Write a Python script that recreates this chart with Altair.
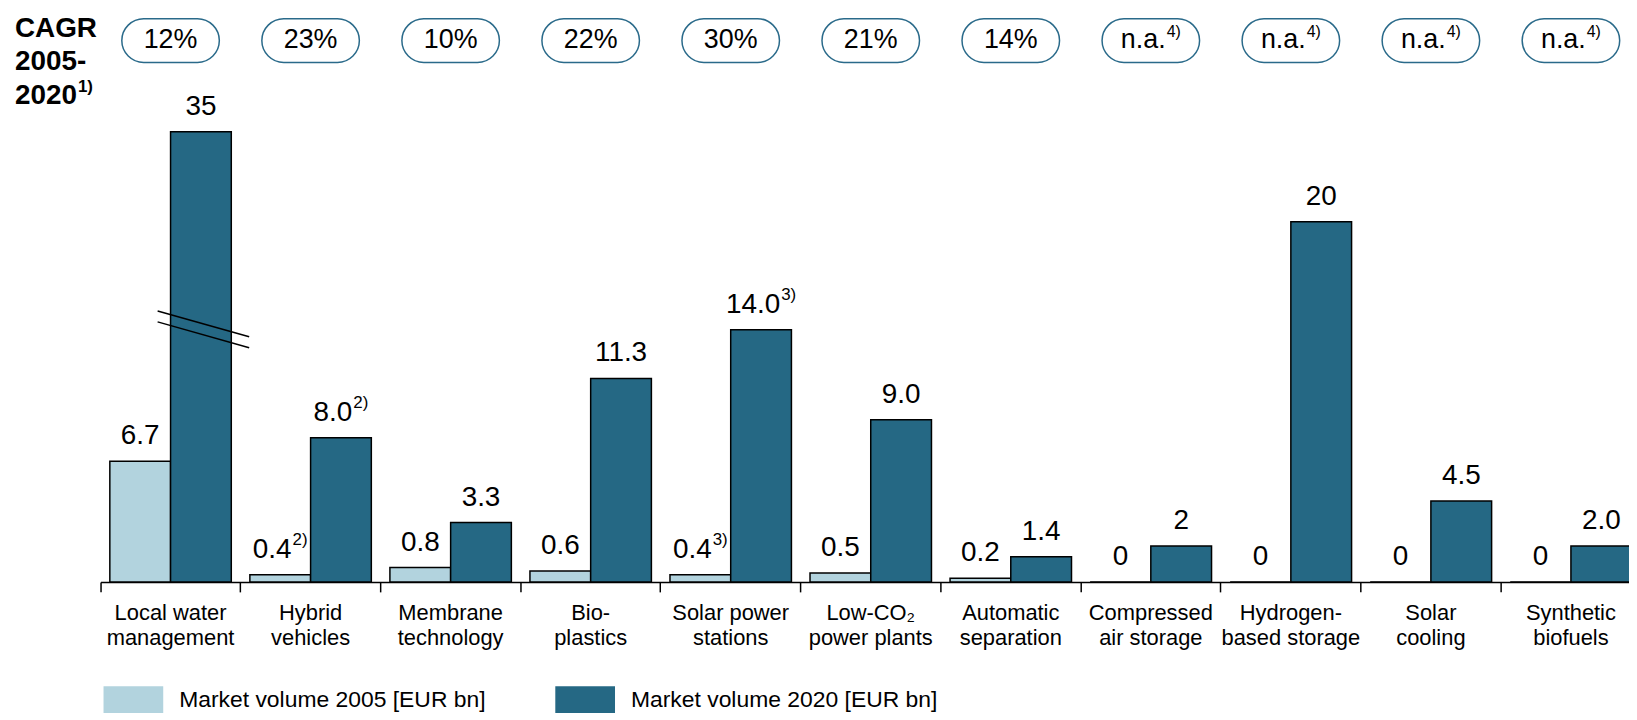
import altair as alt
import pandas as pd

categories = [
    "Local water\nmanagement", "Hybrid\nvehicles", "Membrane\ntechnology",
    "Bio-\nplastics", "Solar power\nstations", "Low-CO\u2082\npower plants",
    "Automatic\nseparation", "Compressed\nair storage", "Hydrogen-\nbased storage",
    "Solar\ncooling", "Synthetic\nbiofuels",
]
cagr = ["12%", "23%", "10%", "22%", "30%", "21%", "14%", "n.a.", "n.a.", "n.a.", "n.a."]
cagr_fn = ["", "", "", "", "", "", "", "4)", "4)", "4)", "4)"]
v2005 = [6.7, 0.4, 0.8, 0.6, 0.4, 0.5, 0.2, 0, 0, 0, 0]
v2020 = [35, 8.0, 3.3, 11.3, 14.0, 9.0, 1.4, 2, 20, 4.5, 2.0]
lab2005 = ["6.7", "0.4", "0.8", "0.6", "0.4", "0.5", "0.2", "0", "0", "0", "0"]
fn2005 = ["", "2)", "", "", "3)", "", "", "", "", "", ""]
lab2020 = ["35", "8.0", "3.3", "11.3", "14.0", "9.0", "1.4", "2", "20", "4.5", "2.0"]
fn2020 = ["", "2)", "", "", "3)", "", "", "", "", "", ""]
series = ["Market volume 2005 [EUR bn]", "Market volume 2020 [EUR bn]"]
colors = ["#b2d3de", "#256884"]
title_lines = "CAGR\n2005-\n2020"
title_fn = "1)"
BREAK_AT = 25  # values above this are drawn with an axis break

FONT = "Liberation Sans"
YDOM = [0, 31.77]
TITLE_SIZE = 28

# approximate Arial advance widths (em) for centring label + footnote
EM = {".": 0.278, "%": 0.889, ")": 0.333, "n": 0.556, "a": 0.556, "-": 0.333}


def em(s):
    return sum(EM.get(ch, 0.556) for ch in s)


rows = []
for i, c in enumerate(categories):
    for s, vals, labs, fns in ((series[0], v2005, lab2005, fn2005),
                               (series[1], v2020, lab2020, fn2020)):
        v = vals[i]
        rows.append({"cat": c, "series": s, "value": v,
                     "shown": min(v, BREAK_AT), "label": labs[i], "fn": fns[i]})
df = pd.DataFrame(rows)
df_cagr = pd.DataFrame({"cat": categories, "cagr": cagr, "fn": cagr_fn})
broken = [c for c, v in zip(categories, v2020) if v > BREAK_AT]
df_break = pd.DataFrame({"cat": broken * 2, "ya": [15.04, 14.44] * len(broken),
                         "yb": [13.61, 13.0] * len(broken)})

xscale = alt.Scale(domain=categories, paddingInner=0, paddingOuter=0)
X = alt.X("cat:N", sort=categories, scale=xscale, title=None,
          axis=alt.Axis(bandPosition=0, domainColor="black", domainWidth=1.5,
                        tickColor="black", tickWidth=1.5, tickSize=10,
                        labelAngle=0, labelFont=FONT, labelFontSize=22,
                        labelColor="black", labelLineHeight=25, labelPadding=11,
                        labelExpr="split(datum.value, '\\n')", labelLimit=300))
Y = alt.Y("shown:Q", scale=alt.Scale(domain=YDOM), axis=None)
XO = alt.XOffset("series:N", scale=alt.Scale(domain=series, paddingOuter=0.153, paddingInner=0))

bars = alt.Chart(df).mark_bar(stroke="black", strokeWidth=1.5).encode(
    x=X, xOffset=XO, y=Y,
    color=alt.Color("series:N", scale=alt.Scale(domain=series, range=colors),
                    legend=alt.Legend(
                        title=None, orient="none", legendX=3, legendY=663,
                        direction="horizontal",
                        symbolType="M-1,-0.45H1V0.45H-1Z", symbolSize=3600,
                        symbolStrokeWidth=0, symbolOpacity=1,
                        labelFont=FONT, labelFontSize=23, labelColor="black",
                        labelOffset=16, columnPadding=69, labelLimit=400)),
)


def footnoted_text(data, text_field, fn_field, enc, size, sup_size, dy, sup_dy):
    """Plain centred labels plus label+superscript pairs centred as a whole."""
    layers = [alt.Chart(data).transform_filter(f"datum.{fn_field} == ''").mark_text(
        font=FONT, fontSize=size, dy=dy, baseline="alphabetic", color="black"
    ).encode(text=f"{text_field}:N", **enc)]
    sub = data[data[fn_field] != ""]
    groups = {}
    for _, r in sub.iterrows():
        wm = em(r[text_field]) * size
        ws = em(r[fn_field]) * sup_size
        key = (round(wm, 1), round(ws, 1))
        groups.setdefault(key, []).append(r[text_field] + "|" + r[fn_field])
    for (wm, ws), keys in groups.items():
        start = -(wm + ws + 1) / 2
        flt = alt.FieldOneOfPredicate(field="_k", oneOf=keys)
        base = alt.Chart(data).transform_calculate(
            _k=f"datum.{text_field} + '|' + datum.{fn_field}").transform_filter(flt)
        layers.append(base.mark_text(font=FONT, fontSize=size, dx=start, dy=dy, align="left",
                                     baseline="alphabetic", color="black")
                      .encode(text=f"{text_field}:N", **enc))
        layers.append(base.mark_text(font=FONT, fontSize=sup_size, dx=start + wm + 1,
                                     dy=dy + sup_dy, align="left",
                                     baseline="alphabetic", color="black")
                      .encode(text=f"{fn_field}:N", **enc))
    return layers


value_layers = footnoted_text(df, "label", "fn", {"x": X, "xOffset": XO, "y": Y},
                              28, 17, -17, -13)

breaks = alt.Chart(df_break).mark_rule(color="black", strokeWidth=1.5,
                                       xOffset=-13, x2Offset=79).encode(
    x=X, x2=alt.X2("cat:N"), y=alt.Y("ya:Q", scale=alt.Scale(domain=YDOM), axis=None),
    y2="yb:Q"
)

pills = alt.Chart(df_cagr).mark_bar(width=98, cornerRadius=22, fill="white",
                                    stroke="#2a6a8a", strokeWidth=1.5).encode(
    x=X, y=alt.value(9), y2=alt.value(53)
)
pill_layers = footnoted_text(df_cagr, "cagr", "fn", {"x": X, "y": alt.value(38)},
                             27, 16, 0, -11)

title = alt.Chart(pd.DataFrame({"t": [title_lines]})).mark_text(
    font=FONT, fontSize=TITLE_SIZE, fontWeight="bold", align="left", baseline="alphabetic",
    lineBreak="\n", lineHeight=34, color="black").encode(
    x=alt.value(-86), y=alt.value(27), text="t:N"
)
title_sup = alt.Chart(pd.DataFrame({"f": [title_fn]})).mark_text(
    font=FONT, fontSize=17, fontWeight="bold", align="left", baseline="alphabetic",
    color="black", dx=4 * 0.556 * TITLE_SIZE + 1).encode(
    x=alt.value(-86), y=alt.value(27 + 2 * 34 - 12), text="f:N"
)

chart = alt.layer(pills, *pill_layers, bars, breaks, *value_layers, title, title_sup).properties(
    width=1548, height=575,
    padding={"left": 93, "top": 0, "right": -12, "bottom": 137},
    autosize=alt.AutoSizeParams(type="none"),
).configure(background="white").configure_view(stroke=None)

chart.save("out.html", embed_options={"renderer": "svg", "actions": False})
